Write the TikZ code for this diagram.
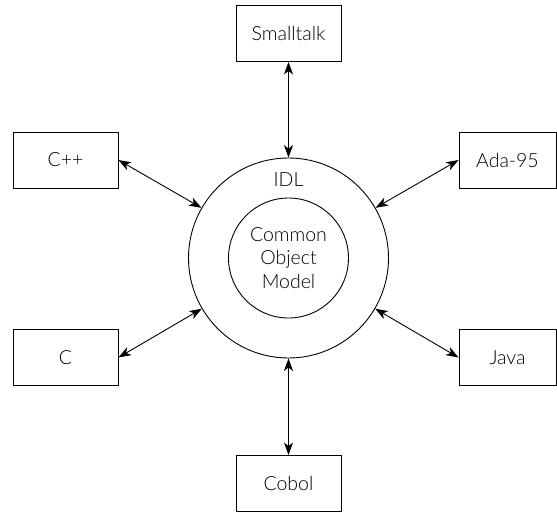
\documentclass[tikz,border=0pt]{standalone}
\usepackage{fontspec}
\setmainfont{Lato Light}
\usepackage{tikz}
\usetikzlibrary{positioning,arrows.meta}

\begin{document}
\begin{tikzpicture}[x=1pt,y=1pt,
    txt/.style={font=\fontsize{19.5}{23.5}\selectfont},
    lang/.style={txt,draw,line width=0.9pt,minimum width=105pt,minimum height=56pt,inner sep=0pt},
    ring/.style={circle,draw,line width=0.9pt,inner sep=0pt},
    link/.style={{Stealth[length=12.5pt,width=9pt,inset=3.5pt]}-{Stealth[length=12.5pt,width=9pt,inset=3.5pt]},line width=0.9pt}]
  \useasboundingbox (-288.5,-254) rectangle (268.5,258);
  % the two rings
  \node[ring,minimum size=200pt] (idl) at (0,0) {};
  \node[ring,txt,minimum size=120pt,align=center] (com) at (0,0) {Common\\Object\\Model};
  \node[txt] (idltext) at (0,78) {IDL};
  % languages round the ring
  \node[lang] (smalltalk) at (0,224.5) {Smalltalk};
  \node[lang] (cobol) at (0,-225.5) {Cobol};
  \node[lang] (cpp) at (-223,98) {C++};
  \node[lang] (c) at (-223,-99.5) {C};
  \node[lang,minimum width=97pt] (ada) at (219,98) {Ada-95};
  \node[lang,minimum width=97pt] (java) at (219,-99.5) {Java};
  % connectors
  \draw[link] (smalltalk) -- (idl);
  \draw[link] (cobol) -- (idl);
  \draw[link] (cpp.east) -- (idl);
  \draw[link] (c.east) -- (idl);
  \draw[link] (ada.west) -- (idl);
  \draw[link] (java.west) -- (idl);
\end{tikzpicture}
\end{document}
